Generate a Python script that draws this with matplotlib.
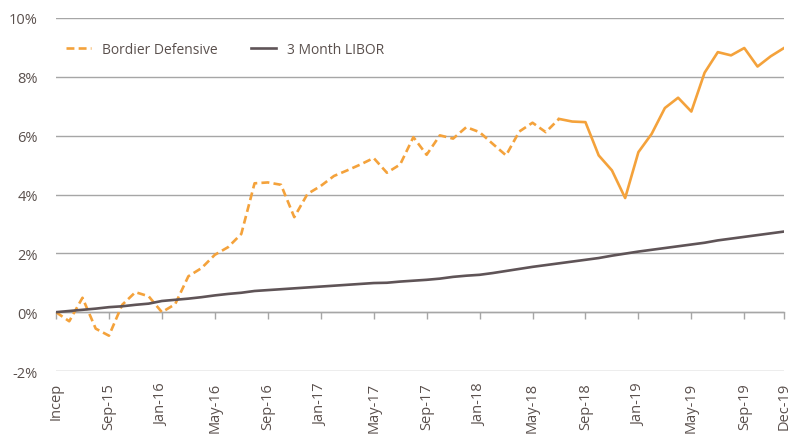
import matplotlib
matplotlib.use("Agg")
import matplotlib.pyplot as plt

months = ["May-15","Jun-15","Jul-15","Aug-15","Sep-15","Oct-15","Nov-15","Dec-15",
          "Jan-16","Feb-16","Mar-16","Apr-16","May-16","Jun-16","Jul-16","Aug-16",
          "Sep-16","Oct-16","Nov-16","Dec-16","Jan-17","Feb-17","Mar-17","Apr-17",
          "May-17","Jun-17","Jul-17","Aug-17","Sep-17","Oct-17","Nov-17","Dec-17",
          "Jan-18","Feb-18","Mar-18","Apr-18","May-18","Jun-18","Jul-18","Aug-18",
          "Sep-18","Oct-18","Nov-18","Dec-18","Jan-19","Feb-19","Mar-19","Apr-19",
          "May-19","Jun-19","Jul-19","Aug-19","Sep-19","Oct-19","Nov-19","Dec-19"]

bordier = [0.00, -0.31, 0.49, -0.56, -0.80, 0.25, 0.68, 0.54,
           0.00, 0.27, 1.22, 1.50, 1.95, 2.21, 2.66, 4.38,
           4.41, 4.33, 3.23, 4.02, 4.29, 4.63, 4.82, 5.02,
           5.24, 4.74, 5.02, 5.95, 5.35, 6.01, 5.90, 6.29,
           6.12, 5.72, 5.33, 6.14, 6.44, 6.12, 6.57, 6.48,
           6.46, 5.33, 4.82, 3.88, 5.44, 6.06, 6.94, 7.29,
           6.82, 8.14, 8.84, 8.73, 8.98, 8.35, 8.70, 8.98]

libor = [0.00, 0.04, 0.08, 0.12, 0.17, 0.20, 0.25, 0.29,
         0.38, 0.42, 0.46, 0.51, 0.57, 0.62, 0.66, 0.72,
         0.75, 0.78, 0.81, 0.84, 0.87, 0.90, 0.93, 0.96,
         0.99, 1.00, 1.04, 1.07, 1.10, 1.14, 1.20, 1.24,
         1.27, 1.33, 1.40, 1.47, 1.54, 1.60, 1.66, 1.72,
         1.78, 1.84, 1.92, 1.99, 2.06, 2.12, 2.18, 2.24,
         2.30, 2.36, 2.44, 2.50, 2.56, 2.62, 2.68, 2.74]

dashed_until = 38  # index where dashed segment ends

tick_idx = [0, 4, 8, 12, 16, 20, 24, 28, 32, 36, 40, 44, 48, 52, 55]
tick_labels = ["Incep", "Sep-15", "Jan-16", "May-16", "Sep-16", "Jan-17", "May-17",
               "Sep-17", "Jan-18", "May-18", "Sep-18", "Jan-19", "May-19", "Sep-19", "Dec-19"]

yticks = [-2, 0, 2, 4, 6, 8, 10]
ytick_labels = ["-2%", "0%", "2%", "4%", "6%", "8%", "10%"]

plt.rcParams['font.family'] = ['Open Sans', 'DejaVu Sans']
txt = '#5a504d'
orange = '#f4a23b'
dark = '#5f5457'
gridc = '#a6a6a6'
fs = 10

fig = plt.figure(figsize=(7.98, 4.39), dpi=100)
ax = fig.add_axes([56/798, 1-372/439, (784-56)/798, (372-19)/439])

x = list(range(len(months)))
ax.plot(x[:dashed_until+1], bordier[:dashed_until+1], color=orange, lw=1.9,
        ls=(0, (3, 1.6)), label="Bordier Defensive", zorder=3)
ax.plot(x[dashed_until:], bordier[dashed_until:], color=orange, lw=1.9, zorder=3)
ax.plot(x, libor, color=dark, lw=1.9, label="3 Month LIBOR", zorder=3)

ax.set_xlim(0, len(months)-1)
ax.set_ylim(-2, 10)
ax.set_yticks(yticks)
ax.set_yticklabels(ytick_labels)
ax.grid(axis='y', color=gridc, lw=1.0)
ax.set_axisbelow(True)
for s in ax.spines.values():
    s.set_visible(False)
ax.tick_params(axis='y', length=0, pad=13, labelsize=10.5, labelcolor=txt)

ax.set_xticks(tick_idx)
ax.set_xticklabels(tick_labels, rotation=90, va='top', ha='center')
ax.tick_params(axis='x', length=0, pad=8, labelsize=10.5, labelcolor=txt)

# zero axis with tick marks
sec = ax.secondary_xaxis(2/12)
sec.set_xticks(tick_idx)
sec.set_xticklabels([])
sec.tick_params(axis='x', direction='out', length=5, color=gridc, width=1)
sec.spines['bottom'].set_color(gridc)
sec.spines['bottom'].set_linewidth(1.0)

leg = ax.legend(loc='upper left', bbox_to_anchor=(0.0, 0.96), ncol=2, frameon=False,
                fontsize=fs, handlelength=1.85, columnspacing=2.4, handletextpad=0.75,
                borderaxespad=0.3, labelcolor=txt)

fig.savefig("out.png", dpi=100)
